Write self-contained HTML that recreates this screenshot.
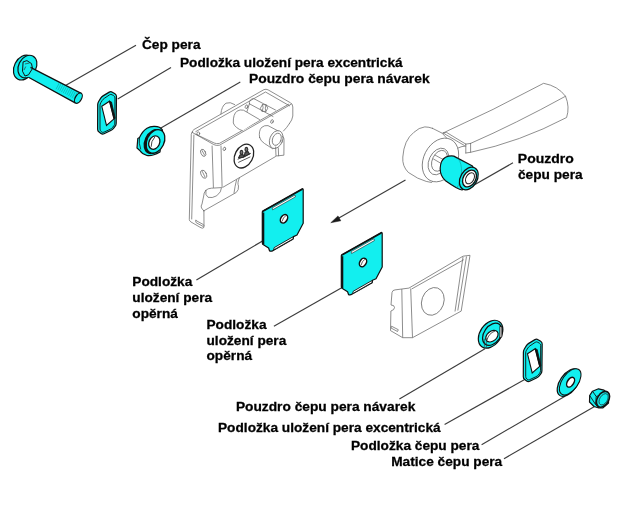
<!DOCTYPE html>
<html><head><meta charset="utf-8">
<style>
html,body{margin:0;padding:0;background:#fff;}
body{width:640px;height:508px;overflow:hidden;position:relative;}
svg{position:absolute;left:0;top:0;will-change:transform;}
.t{font-family:"Liberation Sans",sans-serif;font-weight:bold;font-size:13.3px;fill:#000;stroke:#000;stroke-width:0.28px;}
.ld{stroke:#3c3c3c;stroke-width:1.15;fill:none;}
.c{fill:#12efef;stroke:#111;stroke-width:1.2;stroke-linejoin:round;}
.g{fill:#fff;stroke:#666;stroke-width:0.8;stroke-linejoin:round;}
.gl{fill:none;stroke:#666;stroke-width:0.8;stroke-linecap:round;}
.w{fill:#fff;stroke:#111;stroke-width:1.1;}
</style></head>
<body>
<svg width="640" height="508" viewBox="0 0 640 508">
<!-- leader lines -->
<g class="ld">
<line x1="136" y1="45.3" x2="65.5" y2="85.6"/>
<line x1="171" y1="67.5" x2="117.7" y2="98.9"/>
<line x1="240.3" y1="82" x2="158.3" y2="129.4"/>
<line x1="513" y1="162.8" x2="468" y2="188.5"/>
<line x1="196.4" y1="280" x2="265.5" y2="239.2"/>
<line x1="273.9" y1="326.25" x2="343" y2="287"/>
<line x1="399.4" y1="399" x2="485" y2="348.75"/>
<line x1="444.6" y1="424.6" x2="526" y2="378.75"/>
<line x1="481.6" y1="444.7" x2="565" y2="396.25"/>
<line x1="504" y1="458.75" x2="595" y2="406.25"/>
</g>
<!-- arrow -->
<line x1="405.5" y1="180" x2="338" y2="218.6" stroke="#3c3c3c" stroke-width="1.15"/>
<path d="M330.8,222.7 L338,215.9 L340.8,220.8 Z" fill="#1a1a1a" stroke="#1a1a1a" stroke-width="0.5" stroke-linejoin="round"/>



<!-- ===== HOUSING ===== -->
<g id="housing" fill="none" stroke="#6a6a6a" stroke-width="0.75" stroke-linejoin="round" stroke-linecap="round">
<!-- back cylinder protruding behind back rim -->
<path d="M220.9,114 Q221.5,106 226,103.2 Q230,101.5 234.7,104.5" fill="#fff"/>
<!-- top face (tray) -->
<path d="M192.4,132.5 Q192,130.5 194,129.5 L264,89.6 Q266,88.8 268,89.8 L290.5,102.8 Q292.8,104.3 292.8,107 L292.8,116 Q292.3,120 289.5,123.5" />
<path d="M195.8,131.6 L265.5,92 L289.5,105.8"/>
<!-- front rim -->
<path d="M192.6,132.6 L213.8,144.6 Q216.5,146 219.5,145.2 L291.5,104"/>
<path d="M195.8,134.2 L214.2,143 Q216.5,144.1 219.4,143.4 L288.5,104.3"/>
<!-- tray interior: big cylinder -->
<path d="M242.5,130.8 Q235,128 233.3,123 Q233,114 237.1,111.1 Q240,109.3 243.5,110.2 L259.5,119.5" fill="#fff"/>
<!-- small pin -->
<path d="M249.4,103.8 Q248.5,100 253.3,98.4 L275.5,110"/>
<path d="M249.4,103.8 L273,116.5"/>
<path d="M249.4,103.8 L247,111.6"/>
<path d="M260.5,108 L262.5,104.5 L266,104.8 L267.8,108.2 L265.8,111.5 L262.3,111.3 Z"/>
<path d="M262.5,104.5 Q264,107 262.3,111.3 M266,104.8 Q264.5,108 265.8,111.5"/>
<!-- holes -->
<ellipse cx="246.5" cy="106.7" rx="1.2" ry="1.9" transform="rotate(20 246.5 106.7)"/>
<ellipse cx="272" cy="121.5" rx="1.2" ry="1.9" transform="rotate(20 272 121.5)"/>
<ellipse cx="198.3" cy="133.6" rx="1.4" ry="1.7"/>
<ellipse cx="224.4" cy="148.9" rx="1.2" ry="1.8" transform="rotate(20 224.4 148.9)"/>
<!-- front boss cylinder -->
<path d="M259.6,137.5 Q258.5,131 261.5,127.5 Q264.5,125 268,125.6 L281,132.5 L273,149 L264.5,143.5 Q260.5,141 259.6,137.5 Z" fill="#fff"/>
<ellipse cx="276.2" cy="139.6" rx="6.4" ry="9.3" transform="rotate(22 276.2 139.6)" fill="#fff"/>
<ellipse cx="276.8" cy="139.3" rx="4.2" ry="6.3" transform="rotate(22 276.8 139.3)"/>
<!-- right bracket under boss -->
<path d="M282.5,136 Q284.5,138 284,140 L283.9,155.2 L276,156 L275.6,147"/>
<path d="M278.3,148 L278.6,155.8"/>
<!-- right edge of front plate -->
<path d="M289.5,123.5 Q287,127.5 283.5,131"/>
<!-- front plate bottom edge -->
<path d="M223.2,187.1 L275.6,156.5"/>
<!-- left flange -->
<path d="M192,132 Q190.8,134 191.2,138 L189.3,219.5 Q189.3,221 191,222 L201,227.8 Q203,228.8 204,227.3 L203.9,210.4"/>
<path d="M193.9,135 L191.7,219"/>
<path d="M195.9,220.5 L203.3,224.5 Q204.5,225.8 203.3,226.5 L196.3,222.8 Q195,221.5 195.9,220.5 Z"/>
<!-- fold lines -->
<path d="M212.1,146 L213.4,187.5"/>
<path d="M221,146 L222.1,187.5"/>
<!-- flange holes -->
<ellipse cx="203.2" cy="152.8" rx="2.3" ry="3.8" transform="rotate(-25 203.2 152.8)"/>
<ellipse cx="203.7" cy="174.2" rx="2.6" ry="4.3" transform="rotate(-25 203.7 174.2)"/>
<path d="M202,150.5 L204.5,155 M202.3,171.5 L205,177"/>
<!-- lower bracket -->
<path d="M239.4,177.9 Q237,183 238.5,186 Q239,190 236.2,192.5 L203.7,210.9"/>
<path d="M236.5,180 Q235,186 234,193"/>
<path d="M205.8,190.3 Q208,188.3 211.3,188.2 L221.5,187.6 Q221.5,192 216.7,195.8 Q212,198.5 208,197.3 Q205,195.5 205.8,190.3"/>
<path d="M205.8,190.3 Q203.5,193 203.7,196 L202,204 Q200.5,206 201.5,208 L203.9,211"/>
<!-- logo -->
<ellipse cx="243.9" cy="156.1" rx="8.9" ry="12.6" transform="rotate(28 243.9 156.1)" stroke="#222" stroke-width="1.3"/>
<path d="M238,159.2 L250.6,153.4 M238.6,162.3 L250,157" stroke="#333" stroke-width="0.8"/>
<ellipse cx="241.5" cy="152.4" rx="1.4" ry="2" stroke="#2a2a2a" stroke-width="1.1" fill="#777"/>
<ellipse cx="246.4" cy="149.4" rx="1.4" ry="2" stroke="#2a2a2a" stroke-width="1.1" fill="#777"/>
<path d="M238.5,158 L240,155 L243,154.5 L243.8,157.2 Z M244.2,156.8 L245,152.5 L248,151.5 L249.5,154 Z" stroke="#2a2a2a" stroke-width="1.1" fill="#555"/>
</g>

<!-- ===== GRAY PLATE ===== -->
<g id="gplate" fill="none" stroke="#707070" stroke-width="0.8" stroke-linejoin="round">
<path d="M392,292.5 Q392.5,290 395,289.9 L408.9,288.1 L463,256.2 L470,255.3 L461.2,311.1 L412.5,337.7 L402.7,337.7 L390.5,330.6 L390.9,311 Q394.5,310 394.5,307.5 Q394.5,305 391,305 Z" fill="#fff"/>
<path d="M411.6,289 L463.8,259.7"/>
<path d="M463,257 L455,311.5"/>
<path d="M466.5,256.5 L457.8,310.5"/>
<path d="M401.8,289 L402.7,337.7"/>
<path d="M410.7,288.5 L412.5,337.7"/>
<path d="M391.5,326.2 L398.3,329.7 L397.5,331.5 L391,328 Z"/>
<ellipse cx="432.8" cy="301.4" rx="11" ry="14.2" transform="rotate(20 432.8 301.4)"/>
</g>

<!-- ===== HANDLE ===== -->
<g id="handle" fill="none" stroke="#6a6a6a" stroke-width="0.75" stroke-linejoin="round" stroke-linecap="round">
<!-- arm silhouette fill -->
<path d="M443.1,133 Q493,110.5 543.6,83.3 Q558,86 565.5,96.25 Q570,107 566.6,117.5 Q520,142 470.6,152.3 L466,153 L455,160 Z" fill="#fff" stroke="none"/>
<path d="M443.1,133 Q493,110.5 543.6,83.3 Q558,86 565.5,96.25 Q570,107 566.6,117.5 Q520,142 470.6,152.3 L465.8,153"/>
<path d="M470.6,143.4 Q515,124 565.5,96.25"/>
<path d="M465.8,144.1 L465.8,153 M470.6,143.4 L470.6,152.3 M465.8,144.1 L470.6,143.4"/>
<path d="M443.1,133 L446.5,132.4 L465.8,144.1"/>
<path d="M443.1,133 L464.4,145.5"/>
<!-- hub back silhouette -->
<path d="M432.4,128.3 L442,133.1 L458,150 L431.7,182.5 L426.2,181.4 Q418,179.3 408.3,172.4 Q402,166 402.8,157 Q404,140 413.8,132.4 Q419,127.5 424.8,126.9 Q429,126.9 432.4,128.3 Z" fill="#fff"/>
<!-- hub front face -->
<ellipse cx="440.5" cy="160" rx="16.8" ry="23" transform="rotate(27 440.5 160)" fill="#fff"/>
<path d="M458,148 Q462,146 465.8,146" />
<ellipse cx="438.5" cy="161.5" rx="9.5" ry="14" transform="rotate(25 438.5 161.5)"/>
<ellipse cx="439.5" cy="160.8" rx="7.2" ry="11" transform="rotate(25 439.5 160.8)"/>
<path d="M435.2,155.2 L444.1,160 M433.5,159 L442,164"/>
</g>

<!-- ===== HANDLE BUSHING (cyan) ===== -->
<g id="bush3">
<path class="c" d="M440.2,168.3 Q440.5,160 445.5,157.2 Q449.5,155.5 453.8,156.1 L472.5,166 L476,180 L462,190 Q458,189.5 445.5,180.7 Q440,176 440.2,168.3 Z"/>
<path d="M458,158.5 Q462,163 461.5,173 Q460.5,183 457,187.5" fill="none" stroke="#0a9a9a" stroke-width="0.6"/>
<ellipse cx="468.8" cy="178.5" rx="8.3" ry="12.2" transform="rotate(30 468.8 178.5)" class="c"/>
<ellipse cx="469.5" cy="178.5" rx="6.2" ry="9" transform="rotate(30 469.5 178.5)" fill="#fff" stroke="#111" stroke-width="1.4"/>
<ellipse cx="470" cy="178.3" rx="3.9" ry="6" transform="rotate(30 470 178.3)" fill="#fff" stroke="#222" stroke-width="1"/>
</g>

<!-- ===== BOLT ===== -->
<g id="bolt">
<ellipse class="c" cx="23.8" cy="67.6" rx="9.6" ry="13" transform="rotate(27 23.8 67.6)"/>
<ellipse class="c" cx="27.4" cy="66.6" rx="8.8" ry="11.9" transform="rotate(27 27.4 66.6)"/>
<path d="M26.9,65.6 L81.2,93.3 L75.6,103.1 L25.9,75.9 Z" fill="#12efef" stroke="none"/>
<path d="M23.1,61.9 L26.9,60.6 L31.5,63.6 L32.5,68.5 L28.5,74.8 L25,76 L22.5,71.25 Z" fill="#12efef" stroke="#111" stroke-width="1"/>
<path d="M25,64 L29.5,63 M24,70 L25.8,66.5" stroke="#333" stroke-width="0.7" fill="none"/>
<path d="M30.5,67.4 L81.2,93.3 M28.5,77.3 L75.6,103.1" stroke="#111" stroke-width="1.3" fill="none"/>
<clipPath id="shaftclip"><path d="M27.6,67 L80.5,94.6 L76.2,101.8 L26.6,74.6 Z"/></clipPath><g stroke="#0aa5a5" stroke-width="0.6" clip-path="url(#shaftclip)"><line x1="60.5" y1="80.6" x2="56.0" y2="89.3"/><line x1="62.3" y1="81.5" x2="57.8" y2="90.2"/><line x1="64.1" y1="82.5" x2="59.6" y2="91.2"/><line x1="65.9" y1="83.4" x2="61.4" y2="92.1"/><line x1="67.7" y1="84.4" x2="63.2" y2="93.1"/><line x1="69.5" y1="85.3" x2="65.0" y2="94.0"/><line x1="71.3" y1="86.3" x2="66.8" y2="95.0"/><line x1="73.1" y1="87.2" x2="68.6" y2="96.0"/><line x1="74.9" y1="88.2" x2="70.4" y2="96.9"/><line x1="76.7" y1="89.1" x2="72.2" y2="97.8"/><line x1="78.5" y1="90.1" x2="74.0" y2="98.8"/><line x1="80.3" y1="91.0" x2="75.8" y2="99.8"/></g>
<ellipse class="c" cx="78.4" cy="98.2" rx="3.1" ry="5.65" transform="rotate(30 78.4 98.2)"/>
</g>


<!-- ===== ECCENTRIC WASHER (top) ===== -->
<g id="ecc1">
<path class="c" d="M98.64,101.47 L100.56,98.33 Q101.50,96.80 103.04,95.87 L109.26,92.13 Q110.80,91.20 112.32,92.16 L114.98,93.84 Q116.50,94.80 116.48,96.60 L116.22,123.20 Q116.20,125.00 115.08,126.41 L113.52,128.39 Q112.40,129.80 110.77,130.57 L104.03,133.73 Q102.40,134.50 100.95,133.44 L99.05,132.06 Q97.60,131.00 97.61,129.20 L97.69,104.80 Q97.70,103.00 98.64,101.47 Z"/>
<path d="M100.79,102.73 L102.21,100.47 Q103.00,99.20 104.25,98.37 L109.55,94.83 Q110.80,94.00 112.09,94.77 L113.71,95.73 Q115.00,96.50 114.99,98.00 L114.81,123.10 Q114.80,124.60 113.86,125.77 L112.54,127.43 Q111.60,128.60 110.24,129.23 L103.96,132.17 Q102.60,132.80 101.48,131.81 L101.12,131.49 Q100.00,130.50 100.00,129.00 L100.00,105.50 Q100.00,104.00 100.79,102.73 Z" fill="none" stroke="#111" stroke-width="0.9"/>
<path d="M101.8,106.3 L109.5,101.2 L114,118.9 L106.5,125.5 Z" class="w"/>
<path d="M109.5,101.2 L111.5,102 L115.2,118.3 L114,118.9 Z" fill="#111" stroke="#111" stroke-width="0.8"/>
</g>

<!-- ===== BUSHING NAVAREK (top) ===== -->
<g id="bush1">
<path class="c" d="M153.8,126.3 Q160,126 162.5,130 L160,152 Q152,156.5 147,155.5 Q142,154 139.8,150.5 L137,148 L137.8,138.5 L139.5,137.5 Q142.5,131 147,128.2 Q150,126.5 153.8,126.3 Z"/>
<path d="M139.5,137.5 Q138.5,143 140.8,149.5" fill="none" stroke="#111" stroke-width="0.8"/>
<ellipse cx="153.6" cy="141.6" rx="9.2" ry="13.2" transform="rotate(25 153.6 141.6)" fill="#111"/>
<ellipse cx="155.5" cy="141.4" rx="8.6" ry="12.4" transform="rotate(25 155.5 141.4)" fill="#12efef" stroke="#111" stroke-width="1.3"/>
<ellipse cx="154.3" cy="142.6" rx="5.3" ry="7" transform="rotate(25 154.3 142.6)" fill="#fff" stroke="#111" stroke-width="1.3"/>
<path d="M151.2,146.8 Q150.8,141.5 154.8,137" fill="none" stroke="#333" stroke-width="0.9"/>
</g>

<!-- ===== CYAN PLATE 1 ===== -->
<g id="plate1">
<path class="c" d="M262.7,211 L302.2,188.8 Q303.2,188.4 303.2,189.8 L303.2,223.3 L297,235 L293.5,236.6 L293.2,239 L273.2,250.4 Q271.4,251.6 269.6,251 L268.6,248 L263.4,244.8 Q262.3,244 262.3,242.8 L262.3,212 Z"/>
<path d="M262.9,211.4 L302.6,189.2" fill="none" stroke="#111" stroke-width="1.5"/><path d="M263.3,212.5 L263.3,244.6" fill="none" stroke="#111" stroke-width="2"/>
<path d="M272.2,207.9 L295,195 L295.4,196.9 L272.6,209.8 Z" fill="#fff" stroke="#222" stroke-width="0.6"/>
<path d="M274.2,247.6 L292.8,236.9 L293.2,238.8 L273.6,250 Z" fill="#fff" stroke="#111" stroke-width="0.9"/>
<ellipse cx="284" cy="218.8" rx="3.2" ry="4.6" transform="rotate(32 284 218.8)" fill="#fff" stroke="#111" stroke-width="1.5"/>
<path d="M282,221.5 Q283,217.5 286,215.5" fill="none" stroke="#333" stroke-width="0.8"/>
</g>
<use href="#plate1" transform="translate(79 43.7)"/>

<!-- ===== BUSHING NAVAREK (lower) ===== -->
<g id="bush2">
<ellipse class="c" cx="490.6" cy="334.2" rx="10.5" ry="15.3" transform="rotate(35 490.6 334.2)"/>
<ellipse cx="492.3" cy="334.3" rx="8.3" ry="12.2" transform="rotate(35 492.3 334.3)" fill="#12efef" stroke="#111" stroke-width="1.2"/>
<ellipse cx="491.9" cy="336.2" rx="7" ry="4.8" transform="rotate(-40 491.9 336.2)" fill="#fff" stroke="#111" stroke-width="1.2"/>
<path d="M487,340 Q488.5,333.5 495,331" fill="none" stroke="#222" stroke-width="0.8"/>
<path d="M499.9,326.2 L501.9,327 L501.9,336.8 L499.9,338 Z" fill="#fff" stroke="#111" stroke-width="0.9"/>
<path d="M484.4,338.8 L484.4,346.8 M486.4,338.2 L486.4,347.8" fill="none" stroke="#333" stroke-width="0.6"/>
</g>

<!-- ===== ECCENTRIC WASHER (lower) ===== -->
<use href="#ecc1" transform="translate(425.7 247.5)"/>

<!-- ===== PLAIN WASHER ===== -->
<g id="washer">
<ellipse class="c" cx="568.6" cy="382.6" rx="8.6" ry="15.6" transform="rotate(35 568.6 382.6)"/>
<ellipse cx="570.2" cy="381.8" rx="8" ry="15" transform="rotate(35 570.2 381.8)" fill="#12efef" stroke="#111" stroke-width="1"/>
<ellipse cx="570.6" cy="382.2" rx="3.2" ry="5.4" transform="rotate(32 570.6 382.2)" fill="#fff" stroke="#111" stroke-width="1.5"/>
</g>

<!-- ===== NUT ===== -->
<g id="nut">
<path class="c" d="M592.5,391.2 L598.5,388.8 L604,390.2 L608.8,395 L608.5,403 L603,407.8 L598.8,408 L594,406.5 L589.5,402 L589.7,395.5 Z"/>
<path d="M592.5,391.2 L596.2,396.5 L601.5,394.8 M596.2,396.5 L595.6,404.5 L598.8,408 M589.7,395.5 L595.6,404.5" fill="none" stroke="#111" stroke-width="0.9"/>
<ellipse cx="603" cy="399.3" rx="5.6" ry="8.6" transform="rotate(32 603 399.3)" fill="#12efef" stroke="#111" stroke-width="1.6"/>
<ellipse cx="603.6" cy="399.3" rx="3.8" ry="6.2" transform="rotate(32 603.6 399.3)" fill="#12efef" stroke="#222" stroke-width="0.7"/>
</g>

<!-- labels -->
<text class="t" x="142" y="48.5" textLength="58.5" lengthAdjust="spacingAndGlyphs">Čep pera</text>
<text class="t" x="180" y="67.4" textLength="222.7" lengthAdjust="spacingAndGlyphs">Podložka uložení pera excentrická</text>
<text class="t" x="249" y="83.0" textLength="180.6" lengthAdjust="spacingAndGlyphs">Pouzdro čepu pera návarek</text>
<text class="t" x="517.8" y="163.2" textLength="56" lengthAdjust="spacingAndGlyphs">Pouzdro</text>
<text class="t" x="518" y="178.8" textLength="64.6" lengthAdjust="spacingAndGlyphs">čepu pera</text>
<text class="t" x="132.3" y="286.3" textLength="60.0" lengthAdjust="spacingAndGlyphs">Podložka</text>
<text class="t" x="132.3" y="302.1" textLength="79.8" lengthAdjust="spacingAndGlyphs">uložení pera</text>
<text class="t" x="132.3" y="317.7" textLength="45.6" lengthAdjust="spacingAndGlyphs">opěrná</text>
<text class="t" x="206.5" y="329.1" textLength="60.0" lengthAdjust="spacingAndGlyphs">Podložka</text>
<text class="t" x="206.5" y="344.7" textLength="79.8" lengthAdjust="spacingAndGlyphs">uložení pera</text>
<text class="t" x="206.5" y="360.3" textLength="45.6" lengthAdjust="spacingAndGlyphs">opěrná</text>
<text class="t" x="235.9" y="411.3" textLength="179.4" lengthAdjust="spacingAndGlyphs">Pouzdro čepu pera návarek</text>
<text class="t" x="218" y="431.9" textLength="222.7" lengthAdjust="spacingAndGlyphs">Podložka uložení pera excentrická</text>
<text class="t" x="351" y="449.5" textLength="128.4" lengthAdjust="spacingAndGlyphs">Podložka čepu pera</text>
<text class="t" x="391.2" y="466.2" textLength="111.0" lengthAdjust="spacingAndGlyphs">Matice čepu pera</text>
</svg>
</body></html>
